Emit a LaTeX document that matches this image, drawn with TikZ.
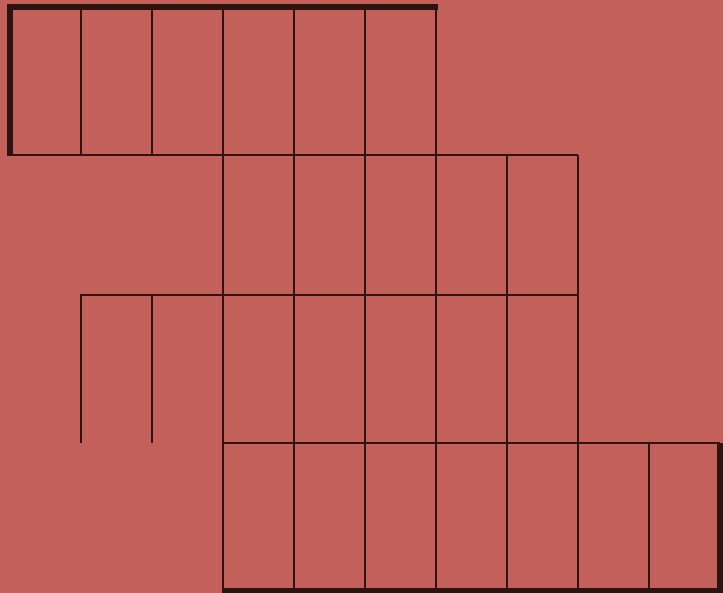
\documentclass[tikz,border=0pt]{standalone}
\usepackage{xcolor}
\definecolor{rgbrick}{HTML}{C4605A}
\definecolor{rgumber}{HTML}{2E1411}
\usepackage{tikz}

\begin{document}
\begin{tikzpicture}[
  x=1pt, y=-1pt,
  grid/.style={draw=rgumber, line width=2.2pt},
  rim/.style={draw=rgumber, line width=6pt, line join=miter}
]
  \fill[rgbrick] (0,0) rectangle (723,593);
  \useasboundingbox (0,0) rectangle (723,593);

  % horizontal lines
  \draw[grid] (9,155) -- (578,155);
  \draw[grid] (80,295) -- (578,295);
  \draw[grid] (223,443) -- (720,443);

  % vertical lines
  \foreach \x in {81,152} {
    \draw[grid] (\x,8) -- (\x,155);
    \draw[grid] (\x,295) -- (\x,443);
  }
  \foreach \x in {223,294,365,436}
    \draw[grid] (\x,8) -- (\x,590);
  \foreach \x in {507,578}
    \draw[grid] (\x,155) -- (\x,590);
  \draw[grid] (649,443) -- (649,590);

  % thick rims
  \draw[rim] (10,156) -- (10,7.5) -- (437.5,7.5);
  \draw[rim] (720,443) -- (720,591) -- (222,591);
\end{tikzpicture}
\end{document}
